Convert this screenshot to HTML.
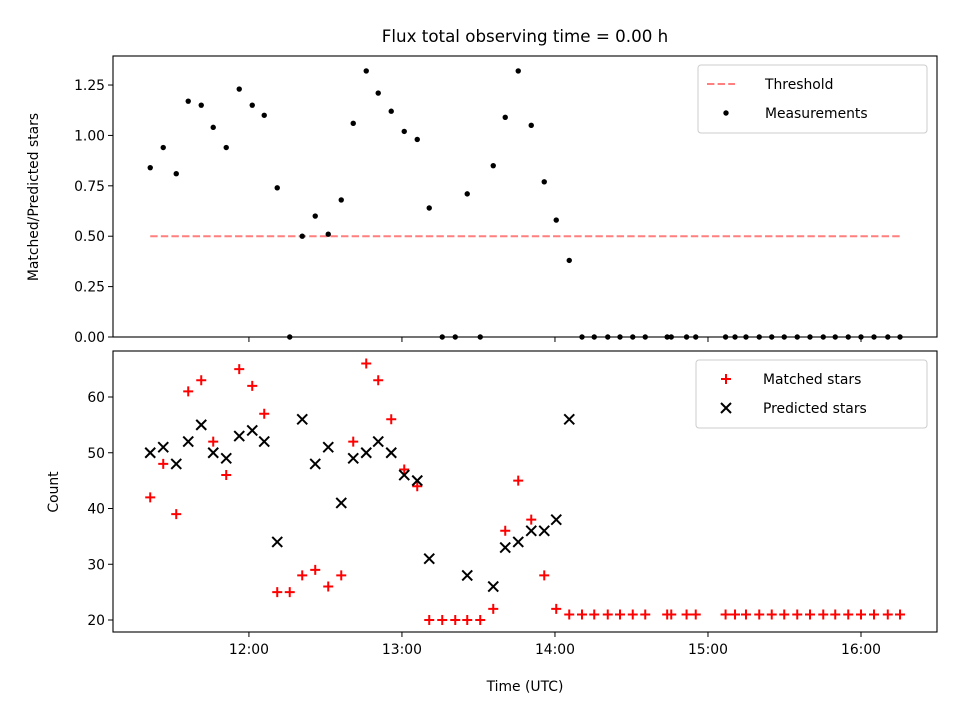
<!DOCTYPE html>
<html><head><meta charset="utf-8"><style>
html,body{margin:0;padding:0;background:#fff;}
svg{display:block;font-family:"DejaVu Sans","Liberation Sans",sans-serif;}
</style></head><body>
<svg id="chart" width="960" height="720" viewBox="0 0 960 720" xmlns="http://www.w3.org/2000/svg">
<rect width="960" height="720" fill="#fff"/>
<text x="525" y="42" font-size="16.7" text-anchor="middle">Flux total observing time = 0.00 h</text>
<g id="topPanel"></g>
<g id="botPanel"></g>
<text x="525" y="691" font-size="13.9" text-anchor="middle">Time (UTC)</text>
<text transform="translate(38,197) rotate(-90)" font-size="13.9" text-anchor="middle">Matched/Predicted stars</text>
<text transform="translate(58,492) rotate(-90)" font-size="13.9" text-anchor="middle">Count</text>
</svg>
<script>
// time in minutes since midnight UTC
const times=[681.3,686.4,691.5,696.2,701.3,706.0,711.1,716.2,721.3,726.0,731.1,736.0,740.9,746.0,751.1,756.2,760.9,766.0,770.7,775.8,780.9,786.0,790.7,795.8,800.9,805.6,810.7,815.8,820.5,825.6,830.7,835.8,840.5,845.6,850.6,855.4,860.7,865.5,870.5,875.4,884.0,885.6,891.6,895.2,906.9,910.6,914.9,920.1,925.0,929.9,935.0,940.0,945.2,949.9,955.0,960.0,965.1,970.5,975.3];
const ratio=[0.84,0.94,0.81,1.17,1.15,1.04,0.94,1.23,1.15,1.10,0.74,0,0.50,0.60,0.51,0.68,1.06,1.32,1.21,1.12,1.02,0.98,0.64,0,0,0.71,0,0.85,1.09,1.32,1.05,0.77,0.58,0.38,0,0,0,0,0,0,0,0,0,0,0,0,0,0,0,0,0,0,0,0,0,0,0,0,0];
const matched=[42,48,39,61,63,52,46,65,62,57,25,25,28,29,26,28,52,66,63,56,47,44,20,20,20,20,20,22,36,45,38,28,22,21,21,21,21,21,21,21,21,21,21,21,21,21,21,21,21,21,21,21,21,21,21,21,21,21,21];
const predicted=[50,51,48,52,55,50,49,53,54,52,34,null,56,48,51,41,49,50,52,50,46,45,31,null,null,28,null,26,33,34,36,36,38,56];
const threshold=0.5;
const xTickVals=[720,780,840,900,960];
const xTickLabels=["12:00","13:00","14:00","15:00","16:00"];
const topTicks=[0,0.25,0.5,0.75,1.0,1.25];
const topTickLabels=["0.00","0.25","0.50","0.75","1.00","1.25"];
const botTicks=[20,30,40,50,60];

const NS="http://www.w3.org/2000/svg";
const L=113,R=937;
const xMin=666.7,xMax=989.8;
const X=t=>L+(t-xMin)/(xMax-xMin)*(R-L);
const T0=56,T1=337,B0=351,B1=632;
const Yt=v=>T1-(v-0)/(1.394-0)*(T1-T0);
const Yb=v=>B1-(v-17.85)/(68.25-17.85)*(B1-B0);
function el(p,tag,a){const e=document.createElementNS(NS,tag);for(const k in a)e.setAttribute(k,a[k]);p.appendChild(e);return e;}
const gTop=document.getElementById('topPanel'),gBot=document.getElementById('botPanel');

const th=el(gTop,'line',{x1:X(times[0]),x2:X(times[times.length-1]),y1:Yt(threshold),y2:Yt(threshold),stroke:'#ff7f7f','stroke-width':2,'stroke-dasharray':'7.4,3.2'});


ratio.forEach((v,i)=>{const c=el(gTop,'circle',{cx:X(times[i]),cy:Yt(v),r:2.7,fill:'#000'});

});

function plus(g,x,y,col){return el(g,'path',{d:`M${x-5},${y}H${x+5}M${x},${y-5}V${y+5}`,stroke:col,'stroke-width':2,fill:'none'});}
function cross(g,x,y,col){return el(g,'path',{d:`M${x-5},${y-5}L${x+5},${y+5}M${x-5},${y+5}L${x+5},${y-5}`,stroke:col,'stroke-width':2,fill:'none'});}
matched.forEach((v,i)=>{const p=plus(gBot,X(times[i]),Yb(v),'#f00');

});
predicted.forEach((v,i)=>{if(v==null)return;const p=cross(gBot,X(times[i]),Yb(v),'#000');

});

[[gTop,T0,T1],[gBot,B0,B1]].forEach(([g,y0,y1],k)=>{
 const f=el(g,'rect',{x:L,y:y0,width:R-L,height:y1-y0,fill:'none',stroke:'#000','stroke-width':1.1});
 
 
 xTickVals.forEach((t,i)=>{el(g,'line',{x1:X(t),x2:X(t),y1:y1,y2:y1+5,stroke:'#000','stroke-width':1});
  if(k){const tx=el(g,'text',{x:X(t),y:y1+22,'font-size':13.9,'text-anchor':'middle'});tx.textContent=xTickLabels[i];
  
  }});
});
topTicks.forEach((v,i)=>{el(gTop,'line',{x1:L-5,x2:L,y1:Yt(v),y2:Yt(v),stroke:'#000'});
 const t=el(gTop,'text',{x:L-8,y:Yt(v)+5,'font-size':13.9,'text-anchor':'end'});t.textContent=topTickLabels[i];
 
 });
botTicks.forEach(v=>{el(gBot,'line',{x1:L-5,x2:L,y1:Yb(v),y2:Yb(v),stroke:'#000'});
 const t=el(gBot,'text',{x:L-8,y:Yb(v)+5,'font-size':13.9,'text-anchor':'end'});t.textContent=String(v);
 
 });

function legend(g,x,y,w,items,name){
 const b=el(g,'rect',{x:x,y:y,width:w,height:68,rx:3,fill:'#fff','fill-opacity':0.8,stroke:'#ccc'});
 
 
 items.forEach((it,i)=>{const cy=y+19+i*29;
  it.draw(x+28,cy);
  const t=el(g,'text',{x:x+67,y:cy+5,'font-size':13.9});t.textContent=it.label;
  
  });
}
legend(gTop,698,65,229,[
 {label:'Threshold',draw:(x,y)=>el(gTop,'line',{x1:x-19,x2:x+9,y1:y,y2:y,stroke:'#ff7f7f','stroke-width':2,'stroke-dasharray':'7.4,3.2'})},
 {label:'Measurements',draw:(x,y)=>el(gTop,'circle',{cx:x,cy:y,r:2.7,fill:'#000'})}],'top-legend');
legend(gBot,696,360,231,[
 {label:'Matched stars',draw:(x,y)=>plus(gBot,x+2,y,'#f00')},
 {label:'Predicted stars',draw:(x,y)=>cross(gBot,x+2,y,'#000')}],'bottom-legend');
</script>
</body></html>
